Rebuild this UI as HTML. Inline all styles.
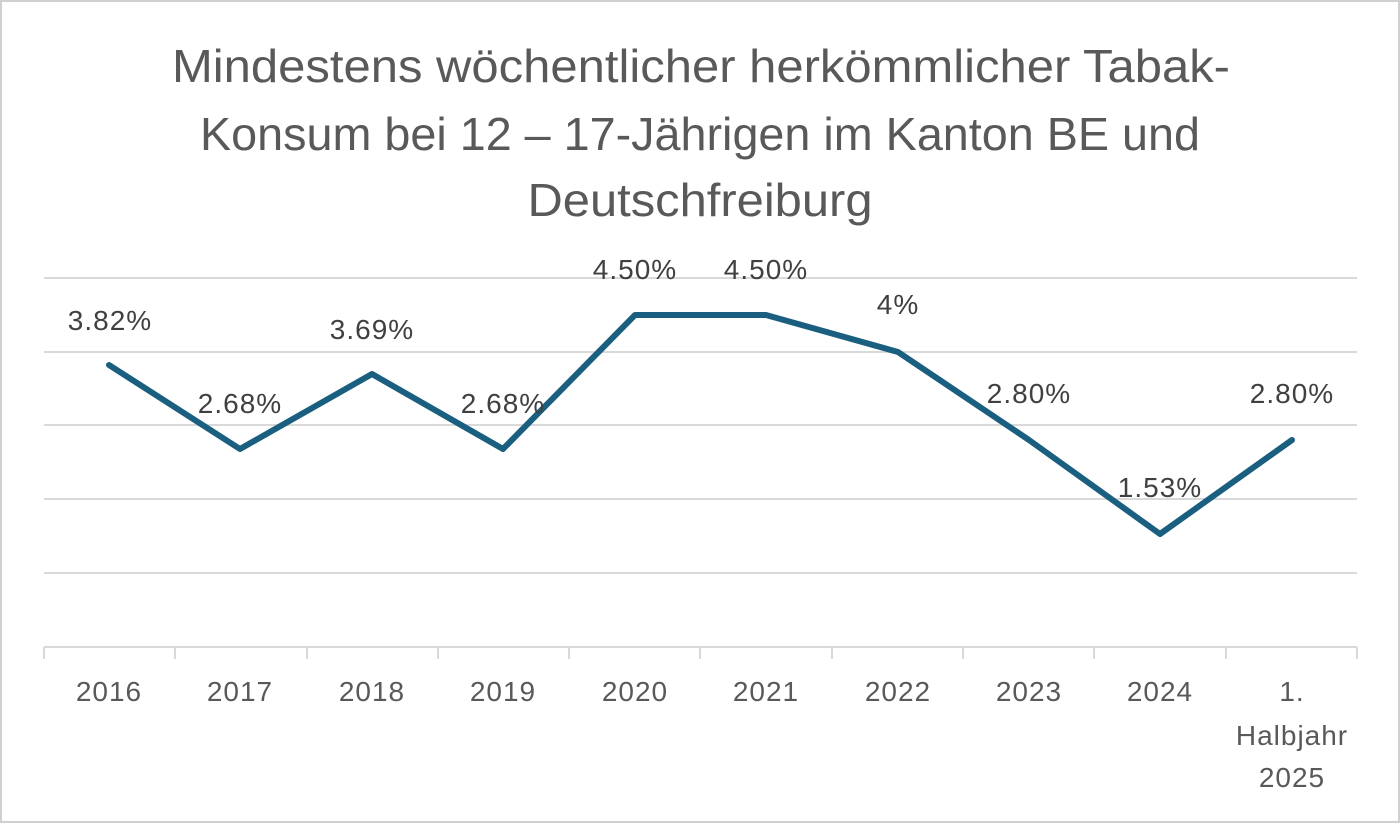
<!DOCTYPE html>
<html><head><meta charset="utf-8"><style>
html,body{margin:0;padding:0;background:#fff;}
svg{display:block;font-family:"Liberation Sans",sans-serif;}
</style></head><body>
<svg width="1400" height="823" viewBox="0 0 1400 823">
<rect x="1" y="1" width="1398" height="821" fill="#fff" stroke="#d0d0d0" stroke-width="2"/>
<g fill="#595959" font-size="46" text-anchor="middle">
<text x="701" y="82" textLength="1058" lengthAdjust="spacingAndGlyphs">Mindestens wöchentlicher herkömmlicher Tabak-</text>
<text x="700" y="150" textLength="1000" lengthAdjust="spacingAndGlyphs">Konsum bei 12 – 17-Jährigen im Kanton BE und</text>
<text x="700" y="216" textLength="345" lengthAdjust="spacingAndGlyphs">Deutschfreiburg</text>
</g>
<g stroke="#d9d9d9" stroke-width="2">
<line x1="44" y1="278" x2="1357" y2="278"/>
<line x1="44" y1="352" x2="1357" y2="352"/>
<line x1="44" y1="425" x2="1357" y2="425"/>
<line x1="44" y1="499" x2="1357" y2="499"/>
<line x1="44" y1="573" x2="1357" y2="573"/>
<line x1="44" y1="647" x2="1357" y2="647"/>
<line x1="44" y1="647" x2="44" y2="659"/>
<line x1="175" y1="647" x2="175" y2="659"/>
<line x1="307" y1="647" x2="307" y2="659"/>
<line x1="438" y1="647" x2="438" y2="659"/>
<line x1="569" y1="647" x2="569" y2="659"/>
<line x1="700" y1="647" x2="700" y2="659"/>
<line x1="832" y1="647" x2="832" y2="659"/>
<line x1="963" y1="647" x2="963" y2="659"/>
<line x1="1094" y1="647" x2="1094" y2="659"/>
<line x1="1226" y1="647" x2="1226" y2="659"/>
<line x1="1357" y1="647" x2="1357" y2="659"/>
</g>
<polyline fill="none" stroke="#1a5e80" stroke-width="6" stroke-linejoin="round" stroke-linecap="round"
points="109,365 240,449 372,374 503,449 635,315 766,315 898,352 1029,440 1160,534 1292,440"/>
<g fill="#404040" font-size="28" letter-spacing="1" text-anchor="middle">
<text x="110" y="330">3.82%</text>
<text x="240" y="413">2.68%</text>
<text x="372" y="339">3.69%</text>
<text x="503" y="413">2.68%</text>
<text x="635" y="279">4.50%</text>
<text x="766" y="279">4.50%</text>
<text x="898" y="314">4%</text>
<text x="1029" y="403">2.80%</text>
<text x="1160" y="497">1.53%</text>
<text x="1292" y="403">2.80%</text>
</g>
<g fill="#595959" font-size="28" letter-spacing="1" text-anchor="middle">
<text x="109" y="701">2016</text>
<text x="240" y="701">2017</text>
<text x="372" y="701">2018</text>
<text x="503" y="701">2019</text>
<text x="635" y="701">2020</text>
<text x="766" y="701">2021</text>
<text x="898" y="701">2022</text>
<text x="1029" y="701">2023</text>
<text x="1160" y="701">2024</text>
<text x="1292" y="701">1.</text>
<text x="1292" y="745">Halbjahr</text>
<text x="1292" y="787">2025</text>
</g>
</svg>
</body></html>
